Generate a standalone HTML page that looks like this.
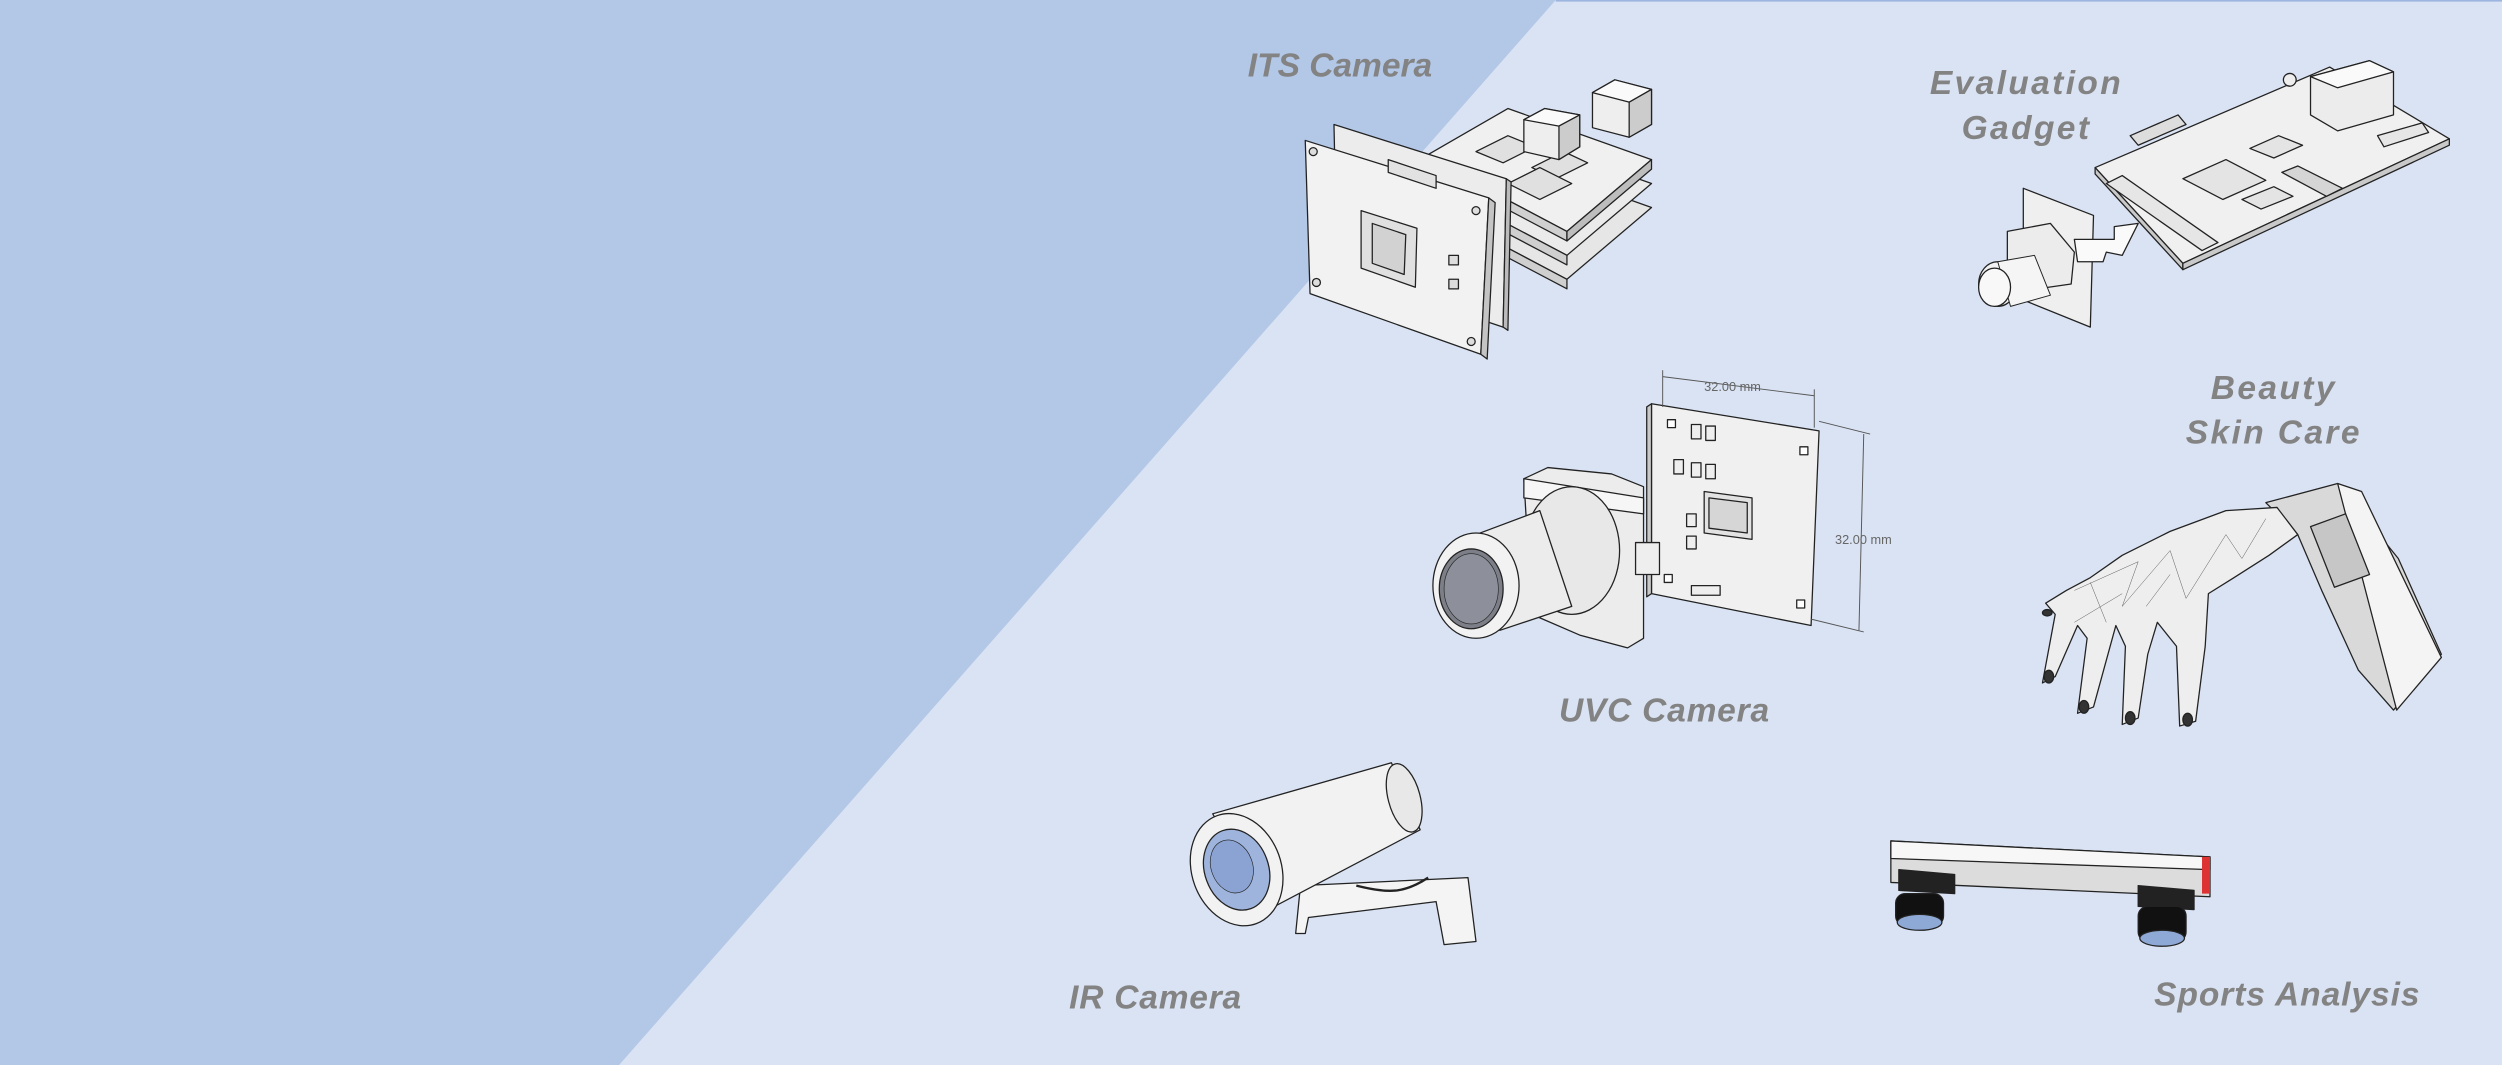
<!DOCTYPE html>
<html><head><meta charset="utf-8"><style>
html,body{margin:0;padding:0;width:2502px;height:1065px;overflow:hidden;background:#dae3f3}
svg{display:block}
text{font-family:"Liberation Sans",sans-serif;font-style:italic;font-weight:bold;fill:#838383}
</style></head><body>
<svg width="2502" height="1065" viewBox="0 0 1568 667.4" xmlns="http://www.w3.org/2000/svg">
<rect width="1568" height="667.4" fill="#dae3f3"/>
<line x1="975" y1="0.5" x2="1568" y2="0.5" stroke="#9db6e0" stroke-width="1"/>
<polygon points="0,0 975,0 388,667.4 0,667.4" fill="#b3c7e7"/>

<g stroke="#222" stroke-width="0.8" stroke-linejoin="round">
<!-- ITS camera -->
<polygon points="893,128 945,98 1035,130 982,175" fill="#e6e6e6"/>
<polygon points="893,128 982,175 982,181 893,134" fill="#cfcfcf"/>
<polygon points="893,113 945,83 1035,115 982,160" fill="#ebebeb"/>
<polygon points="893,113 982,160 982,166 893,119" fill="#cfcfcf"/>
<polygon points="893,98 945,68 1035,100 982,145" fill="#f0f0f0"/>
<polygon points="893,98 982,145 982,151 893,104" fill="#d0d0d0"/>
<polygon points="982,145 1035,100 1035,106 982,151" fill="#bdbdbd"/>
<polygon points="925,95 945,85 962,92 942,102" fill="#e0e0e0"/>
<polygon points="960,105 980,95 995,102 975,112" fill="#e0e0e0"/>
<polygon points="945,115 965,105 985,115 965,125" fill="#e0e0e0"/>
<polygon points="955,75 968,68 990,72 990,92 977,100 955,95" fill="#eee"/>
<polygon points="955,75 968,68 990,72 977,79" fill="#fafafa"/>
<polygon points="977,79 990,72 990,92 977,100" fill="#ccc"/>
<polygon points="998,58 1012,50 1035,56 1035,78 1021,86 998,80" fill="#eee"/>
<polygon points="998,58 1012,50 1035,56 1021,64" fill="#fafafa"/>
<polygon points="1021,64 1035,56 1035,78 1021,86" fill="#ccc"/>
<polygon points="836,78 944,112 942,205 838,170" fill="#ececec"/>
<polygon points="944,112 947,114 945,207 942,205" fill="#bbb"/>
<polygon points="818,88 933,124 928,222 821,184" fill="#f2f2f2"/>
<polygon points="933,124 937,127 932,225 928,222" fill="#c4c4c4"/>
<polygon points="870,100 900,110 900,118 870,108" fill="#e2e2e2"/>
<polygon points="853,132 888,143 887,180 853,168" fill="#e0e0e0"/>
<polygon points="860,140 881,147 880,172 860,165" fill="#d2d2d2"/>
<circle cx="823" cy="95" r="2.5" fill="#ddd"/><circle cx="925" cy="132" r="2.5" fill="#ddd"/>
<circle cx="825" cy="177" r="2.5" fill="#ddd"/><circle cx="922" cy="214" r="2.5" fill="#ddd"/>
<rect x="908" y="160" width="6" height="6" fill="#ddd"/><rect x="908" y="175" width="6" height="6" fill="#ddd"/>

<!-- Evaluation gadget -->
<polygon points="1313,105 1460,42 1535,87 1368,165" fill="#f0f0f0"/>
<polygon points="1313,105 1368,165 1368,169 1313,109" fill="#c9c9c9"/>
<polygon points="1368,165 1535,87 1535,91 1368,169" fill="#c9c9c9"/>
<polygon points="1320,115 1330,110 1390,152 1380,157" fill="#e6e6e6"/>
<polygon points="1335,85 1365,72 1370,78 1340,91" fill="#ddd"/>
<polygon points="1368,112 1395,100 1420,113 1393,125" fill="#e4e4e4"/>
<polygon points="1410,93 1428,85 1443,91 1425,99" fill="#e4e4e4"/>
<polygon points="1405,125 1425,117 1437,123 1417,131" fill="#e4e4e4"/>
<polygon points="1430,108 1440,104 1468,118 1458,123" fill="#d5d5d5"/>
<polygon points="1448,48 1485,38 1500,45 1500,72 1465,82 1448,72" fill="#ececec"/>
<polygon points="1448,48 1485,38 1500,45 1465,55" fill="#fafafa"/>
<polygon points="1490,85 1518,77 1522,83 1494,92" fill="#e6e6e6"/>
<circle cx="1435" cy="50" r="4" fill="#eee"/>
<polygon points="1268,118 1312,135 1310,205 1268,188" fill="#efefef"/>
<polygon points="1300,150 1325,150 1325,142 1340,140 1330,160 1320,158 1318,164 1302,164" fill="#fafafa"/>
<polygon points="1258,145 1285,140 1300,158 1298,178 1270,182 1258,165" fill="#ececec"/>
<ellipse cx="1252" cy="178" rx="12" ry="14" fill="#f2f2f2"/>
<polygon points="1252,164 1275,160 1285,185 1260,192" fill="#f5f5f5" stroke-width="0.6"/>
<ellipse cx="1250" cy="180" rx="10" ry="12" fill="#f8f8f8"/>

<!-- UVC camera -->
<polygon points="1035,253 1140,270 1135,392 1035,372" fill="#f0f0f0"/>
<polygon points="1035,253 1032,255 1032,374 1035,372" fill="#c9c9c9"/>
<polygon points="1068,308 1098,312 1098,338 1068,334" fill="#e2e2e2"/>
<polygon points="1071,312 1095,315 1095,334 1071,331" fill="#d6d6d6"/>
<rect x="1045" y="263" width="5" height="5" fill="#fff"/><rect x="1128" y="280" width="5" height="5" fill="#fff"/>
<rect x="1043" y="360" width="5" height="5" fill="#fff"/><rect x="1126" y="376" width="5" height="5" fill="#fff"/>
<rect x="1060" y="266" width="6" height="9" fill="#eee"/><rect x="1069" y="267" width="6" height="9" fill="#eee"/>
<rect x="1049" y="288" width="6" height="9" fill="#eee"/><rect x="1060" y="290" width="6" height="9" fill="#eee"/><rect x="1069" y="291" width="6" height="9" fill="#eee"/>
<rect x="1057" y="322" width="6" height="8" fill="#eee"/><rect x="1057" y="336" width="6" height="8" fill="#eee"/>
<rect x="1060" y="367" width="18" height="6" fill="#eee"/>
<polygon points="955,300 970,293 1010,297 1030,305 1030,400 1020,406 990,398 960,385" fill="#ececec"/>
<polygon points="955,300 1030,312 1030,322 955,312" fill="#f6f6f6"/>
<rect x="1025" y="340" width="15" height="20" fill="#eee"/>
<ellipse cx="985" cy="345" rx="30" ry="40" fill="#e8e8e8"/>
<polygon points="925,335 965,320 985,380 940,395" fill="#ececec"/>
<ellipse cx="925" cy="367" rx="27" ry="33" fill="#f2f2f2"/>
<ellipse cx="922" cy="369" rx="20" ry="25" fill="#7d7f88"/>
<ellipse cx="922" cy="369" rx="17" ry="22" fill="#8d909a" stroke-width="0.4"/>
</g>
<g stroke="#555" stroke-width="0.6" fill="none">
<line x1="1042" y1="236" x2="1137" y2="248"/><line x1="1042" y1="232" x2="1042" y2="255"/><line x1="1137" y1="244" x2="1137" y2="268"/>
<line x1="1168" y1="272" x2="1165" y2="395"/><line x1="1140" y1="264" x2="1172" y2="272"/><line x1="1135" y1="388" x2="1168" y2="396"/>
</g>
<text x="1068" y="245" font-size="8" style="font-style:normal;font-weight:normal;fill:#666">32.00 mm</text>
<text x="1150" y="341" font-size="8" style="font-style:normal;font-weight:normal;fill:#666">32.00 mm</text>

<g stroke="#222" stroke-width="0.8" stroke-linejoin="round">
<!-- Beauty hand -->
<polygon points="1420,315 1465,303 1503,350 1530,410 1500,445 1478,420 1455,370 1440,335" fill="#d9d9d9"/>
<polygon points="1465,303 1480,308 1530,412 1502,445" fill="#f4f4f4"/>
<polygon points="1448,330 1470,322 1485,360 1463,368" fill="#c6c6c6"/>
<polygon points="1427,318 1440,335 1422,348 1400,362 1384,372 1382,405 1376,452 1366,455 1364,405 1352,390 1346,410 1340,450 1330,454 1332,405 1326,392 1312,443 1302,447 1308,400 1302,392 1288,424 1280,428 1288,385 1282,378 1295,370 1310,362 1330,348 1360,333 1395,320" fill="#eeeeee"/>
<g stroke-width="0.3" fill="none" stroke="#555">
<path d="M1300,370 L1340,352 L1330,380 L1360,345 L1370,375 L1395,335 L1405,350 L1420,325 M1310,365 L1320,390 M1345,380 L1360,360 M1300,390 L1330,372"/>
</g>
<ellipse cx="1284" cy="424" rx="3" ry="4" fill="#333"/>
<ellipse cx="1306" cy="443" rx="3" ry="4" fill="#333"/>
<ellipse cx="1335" cy="450" rx="3" ry="4" fill="#333"/>
<ellipse cx="1371" cy="451" rx="3" ry="4" fill="#333"/>
<ellipse cx="1283" cy="384" rx="3" ry="2" fill="#333"/>

<!-- IR camera -->
<polygon points="815,555 920,550 925,590 905,592 900,565 820,575 818,585 812,585" fill="#f4f4f4"/>
<polygon points="760,510 872,478 890,520 795,570" fill="#f2f2f2"/>
<ellipse cx="880" cy="500" rx="10" ry="22" fill="#e8e8e8" transform="rotate(-15 880 500)"/>
<ellipse cx="775" cy="545" rx="28" ry="36" fill="#f2f2f2" transform="rotate(-20 775 545)"/>
<ellipse cx="775" cy="545" rx="20" ry="26" fill="#9fb4dc" transform="rotate(-20 775 545)"/>
<ellipse cx="772" cy="543" rx="13" ry="17" fill="#8aa3d2" transform="rotate(-20 772 543)" stroke-width="0.4"/>
<path d="M850,555 C870,560 880,560 895,550" fill="none" stroke-width="1.5"/>

<!-- Sports -->
<polygon points="1185,527 1385,537 1385,562 1185,553" fill="#dcdcdc"/>
<polygon points="1185,527 1385,537 1385,545 1185,538" fill="#f7f7f7"/>
<polygon points="1380,537 1385,537 1385,560 1380,560" fill="#d33" stroke="none"/>
<polygon points="1190,545 1225,548 1225,560 1190,558" fill="#222"/>
<rect x="1188" y="560" width="30" height="20" rx="6" fill="#111"/>
<ellipse cx="1203" cy="578" rx="14" ry="5" fill="#8fa9d6"/>
<polygon points="1340,555 1375,558 1375,570 1340,568" fill="#222"/>
<rect x="1340" y="568" width="30" height="22" rx="6" fill="#111"/>
<ellipse cx="1355" cy="588" rx="14" ry="5" fill="#8fa9d6"/>
</g>

<text x="782" y="48" font-size="21">ITS Camera</text>
<text x="1270" y="59" font-size="21" text-anchor="middle" letter-spacing="1.5">Evaluation</text>
<text x="1270" y="87" font-size="21" text-anchor="middle" letter-spacing="1.5">Gadget</text>
<text x="1425" y="250" font-size="21" text-anchor="middle" letter-spacing="1.5">Beauty</text>
<text x="1425" y="278" font-size="21" text-anchor="middle" letter-spacing="1.5">Skin Care</text>
<text x="977" y="452" font-size="21" letter-spacing="0.5">UVC Camera</text>
<text x="670" y="632" font-size="21" letter-spacing="0.5">IR Camera</text>
<text x="1350" y="630" font-size="21" letter-spacing="0.6">Sports Analysis</text>
</svg>
</body></html>
